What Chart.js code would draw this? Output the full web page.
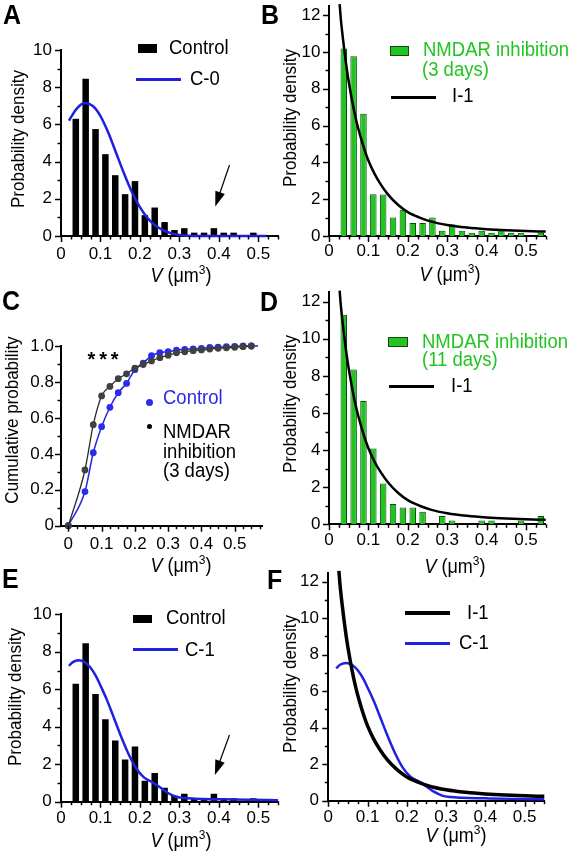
<!DOCTYPE html>
<html>
<head>
<meta charset="utf-8">
<script src="https://cdn.jsdelivr.net/npm/chart.js@4.4.0/dist/chart.umd.min.js"></script>
<style>
  body { margin: 0; background: #fff; }
  #fig { position: relative; width: 568px; height: 852px; overflow: hidden;
         font-family: 'Liberation Sans', Arial, sans-serif; color: #000; }
  #fig canvas { position: absolute; }
  .t { position: absolute; white-space: nowrap; line-height: 1; transform: translateY(-50%) scaleY(1.12); }
  .c { transform: translate(-50%, -50%) scaleY(1.12); }
  .rot { transform: translate(-50%, -50%) rotate(-90deg) scaleY(1.05); font-size: 17px; }
  .letter { font-weight: bold; font-size: 25px; }
  .leg { font-size: 18.5px; }
  .xt { font-size: 18px; }
  .xt sup { font-size: 12px; line-height: 0; }
  .green { color: #22c422; }
  .blue { color: #2a2ae8; }
  .sw { position: absolute; }
</style>
</head>
<body>
<div id="fig">
  <canvas id="cA"></canvas>
  <canvas id="cB"></canvas>
  <canvas id="cC"></canvas>
  <canvas id="cD"></canvas>
  <canvas id="cE"></canvas>
  <canvas id="cF"></canvas>

  <!-- panel letters -->
  <div class="t letter" style="left:3px;top:14px">A</div>
  <div class="t letter" style="left:261px;top:14px">B</div>
  <div class="t letter" style="left:2px;top:300px">C</div>
  <div class="t letter" style="left:260px;top:301px">D</div>
  <div class="t letter" style="left:2px;top:578px">E</div>
  <div class="t letter" style="left:267px;top:579px">F</div>

  <!-- y axis titles -->
  <div class="t rot" style="left:18px;top:139px">Probability density</div>
  <div class="t rot" style="left:290px;top:118px">Probability density</div>
  <div class="t rot" style="left:12px;top:420px">Cumulative probability</div>
  <div class="t rot" style="left:290px;top:404px">Probability density</div>
  <div class="t rot" style="left:15px;top:697px">Probability density</div>
  <div class="t rot" style="left:290px;top:684px">Probability density</div>

  <!-- x axis titles -->
  <div class="t c xt" style="left:181px;top:275px"><i>V</i> (μm<sup>3</sup>)</div>
  <div class="t c xt" style="left:450px;top:274px"><i>V</i> (μm<sup>3</sup>)</div>
  <div class="t c xt" style="left:181px;top:565px"><i>V</i> (μm<sup>3</sup>)</div>
  <div class="t c xt" style="left:455px;top:566px"><i>V</i> (μm<sup>3</sup>)</div>
  <div class="t c xt" style="left:181px;top:840px"><i>V</i> (μm<sup>3</sup>)</div>
  <div class="t c xt" style="left:456px;top:835px"><i>V</i> (μm<sup>3</sup>)</div>

  <!-- legend A -->
  <div class="sw" style="left:138px;top:44px;width:19px;height:9px;background:#000"></div>
  <div class="t leg" style="left:169px;top:47.5px">Control</div>
  <div class="sw" style="left:136px;top:78px;width:45px;height:3px;background:#2020e0"></div>
  <div class="t leg" style="left:190px;top:79px">C-0</div>

  <!-- legend B -->
  <div class="sw" style="left:390px;top:46px;width:17px;height:8px;background:#22c422;border:1px solid #0d4d0d"></div>
  <div class="t leg green" style="left:423px;top:50px">NMDAR inhibition</div>
  <div class="t leg green" style="left:422px;top:69.5px">(3 days)</div>
  <div class="sw" style="left:391px;top:95.5px;width:45px;height:3px;background:#000"></div>
  <div class="t leg" style="left:452px;top:95.5px">I-1</div>

  <!-- legend C -->
  <div class="sw" style="left:145.5px;top:398.8px;width:7px;height:7px;border-radius:50%;background:#2b2bef"></div>
  <div class="t leg blue" style="left:163px;top:398.3px">Control</div>
  <div class="sw" style="left:146.5px;top:423.5px;width:5px;height:5px;border-radius:50%;background:#000"></div>
  <div class="t leg" style="left:163px;top:431.7px">NMDAR</div>
  <div class="t leg" style="left:163px;top:451.7px">inhibition</div>
  <div class="t leg" style="left:163px;top:471px">(3 days)</div>
  <div style="position:absolute;left:87.5px;top:348.6px;font-size:20px;font-weight:bold;line-height:1;letter-spacing:3.9px">***</div>

  <!-- legend D -->
  <div class="sw" style="left:388px;top:337px;width:18px;height:8px;background:#22c422;border:1px solid #0d4d0d"></div>
  <div class="t leg green" style="left:422px;top:341.5px">NMDAR inhibition</div>
  <div class="t leg green" style="left:422px;top:359.5px">(11 days)</div>
  <div class="sw" style="left:389px;top:384.5px;width:45px;height:3px;background:#000"></div>
  <div class="t leg" style="left:451px;top:385.5px">I-1</div>

  <!-- legend E -->
  <div class="sw" style="left:133px;top:615px;width:19px;height:8px;background:#000"></div>
  <div class="t leg" style="left:166px;top:618.3px">Control</div>
  <div class="sw" style="left:133px;top:647.5px;width:45px;height:3px;background:#2020e0"></div>
  <div class="t leg" style="left:185px;top:650px">C-1</div>

  <!-- legend F -->
  <div class="sw" style="left:405px;top:610.5px;width:45px;height:4px;background:#000"></div>
  <div class="t leg" style="left:467px;top:612.5px">I-1</div>
  <div class="sw" style="left:405px;top:642px;width:45px;height:3px;background:#2020e0"></div>
  <div class="t leg" style="left:459px;top:643.3px">C-1</div>
</div>

<script>
// histogram bins (bin centres, µm³)
const binCenters = [0.0375, 0.0625, 0.0875, 0.1125, 0.1375, 0.1625, 0.1875, 0.2125, 0.2375, 0.2625,
  0.2875, 0.3125, 0.3375, 0.3625, 0.3875, 0.4125, 0.4375, 0.4625, 0.4875, 0.5125, 0.5375];
const controlHist = [6.3, 8.45, 5.75, 4.4, 3.27, 2.25, 2.95, 1.12, 1.53, 0.75,
  0.32, 0.42, 0.18, 0.18, 0.42, 0.18, 0.18, 0, 0.18, 0, 0];
const nmdar3Hist = [10.19, 9.77, 6.65, 2.27, 2.25, 1.0, 1.43, 0.71, 0.71, 1.0,
  0.29, 0.62, 0.29, 0.18, 0.29, 0.18, 0.4, 0.18, 0.18, 0, 0.18];
const nmdar11Hist = [11.3, 8.35, 6.65, 4.08, 2.2, 1.1, 0.9, 0.9, 0.68, 0,
  0.45, 0.2, 0, 0, 0.2, 0.2, 0, 0, 0.2, 0, 0.45];

// model curves
const c0X = [0.02, 0.04, 0.06, 0.08, 0.10, 0.12, 0.14, 0.16, 0.18, 0.20, 0.22, 0.24, 0.26, 0.28, 0.30, 0.32, 0.35, 0.40, 0.52];
const c0Y = [6.2, 6.85, 7.15, 7.0, 6.45, 5.55, 4.45, 3.35, 2.35, 1.55, 0.95, 0.55, 0.3, 0.14, 0.06, 0.02, 0, 0, 0];

const i1X = [0.027, 0.03, 0.035, 0.04, 0.045, 0.05, 0.06, 0.07, 0.08, 0.09, 0.1, 0.115, 0.13, 0.15, 0.175,
  0.2, 0.23, 0.26, 0.3, 0.35, 0.4, 0.45, 0.5, 0.55];
const i1Y = [12.6, 11.8, 10.8, 9.9, 9.1, 8.4, 7.2, 6.2, 5.4, 4.7, 4.1, 3.4, 2.85, 2.25, 1.7,
  1.3, 1.0, 0.78, 0.6, 0.46, 0.37, 0.31, 0.27, 0.24];

const c1X = [0.02, 0.03, 0.045, 0.06, 0.075, 0.09, 0.1, 0.115, 0.13, 0.15, 0.17, 0.19, 0.21, 0.23,
  0.25, 0.27, 0.29, 0.31, 0.34, 0.4, 0.47, 0.55];
const c1Y = [7.25, 7.45, 7.55, 7.45, 7.15, 6.65, 6.2, 5.5, 4.7, 3.6, 2.6, 1.8, 1.3, 1.06,
  0.78, 0.48, 0.28, 0.2, 0.16, 0.13, 0.1, 0.08];

// cumulative distributions (panel C)
const cumV = [0, 0.05, 0.075, 0.1, 0.125, 0.15, 0.175, 0.2, 0.225, 0.25, 0.275, 0.3, 0.325, 0.35,
  0.375, 0.4, 0.425, 0.45, 0.475, 0.5, 0.525, 0.55];
const cumControl = [0, 0.19, 0.406, 0.551, 0.659, 0.74, 0.792, 0.868, 0.905, 0.946, 0.963, 0.968, 0.977, 0.981,
  0.984, 0.987, 0.992, 0.993, 0.996, 0.998, 1.0, 1.0];
const cumNmdar = [0, 0.31, 0.562, 0.722, 0.775, 0.818, 0.845, 0.877, 0.897, 0.917, 0.935, 0.948, 0.962, 0.968,
  0.974, 0.978, 0.983, 0.987, 0.99, 0.993, 0.996, 1.0];
const cumControlEnd = 0.57; // fitted line runs a little past the last point

// tick labels
const volTicks = [0, 0.1, 0.2, 0.3, 0.4, 0.5];
const dens10Ticks = [0, 2, 4, 6, 8, 10];
const dens12Ticks = [0, 2, 4, 6, 8, 10, 12];
const cumTicks = [0, 0.2, 0.4, 0.6, 0.8, 1.0];

const BLUE = '#2020e0';
const GREEN = '#22c422';

Chart.defaults.font.family = "'Liberation Sans', Arial, sans-serif";
Chart.defaults.color = '#000';

const xy = (xs, ys) => xs.map((x, i) => ({ x: x, y: ys[i] }));
const bars = ys => binCenters.map((x, i) => ({ x: x, y: ys[i] })).filter(p => p.y > 0);

function minorSteps(from, to, step, skipEvery) {
  const out = [];
  for (let k = Math.round(from / step); k * step <= to + 1e-9; k++) {
    if (k % skipEvery !== 0) out.push(+(k * step).toFixed(4));
  }
  return out;
}

// major + minor tick marks, drawn through the scales
const tickMarks = {
  id: 'tickMarks',
  afterDraw(chart, args, opts) {
    const ctx = chart.ctx;
    ctx.save();
    ctx.strokeStyle = '#000';
    ctx.lineWidth = 1.5;
    ['x', 'y'].forEach(id => {
      const s = chart.scales[id];
      const sets = [[s.ticks.map(t => t.value), 6], [opts[id] || [], 3.5]];
      sets.forEach(([vals, len]) => {
        vals.forEach(v => {
          const p = Math.round(s.getPixelForValue(v)) + 0.5;
          ctx.beginPath();
          if (id === 'x') { ctx.moveTo(p, s.top); ctx.lineTo(p, s.top + len); }
          else { ctx.moveTo(s.right, p); ctx.lineTo(s.right - len, p); }
          ctx.stroke();
        });
      });
    });
    ctx.restore();
  }
};

const arrow = {
  id: 'arrow',
  afterDatasetsDraw(chart, args, opts) {
    if (!opts.from) return;
    const { x, y } = chart.scales;
    const x1 = x.getPixelForValue(opts.from[0]), y1 = y.getPixelForValue(opts.from[1]);
    const x2 = x.getPixelForValue(opts.to[0]), y2 = y.getPixelForValue(opts.to[1]);
    const a = Math.atan2(y2 - y1, x2 - x1);
    const ctx = chart.ctx;
    ctx.save();
    ctx.strokeStyle = '#000';
    ctx.fillStyle = '#000';
    ctx.lineWidth = 1.2;
    ctx.beginPath();
    ctx.moveTo(x1, y1);
    ctx.lineTo(x2 - 12 * Math.cos(a), y2 - 12 * Math.sin(a));
    ctx.stroke();
    ctx.beginPath();
    ctx.moveTo(x2, y2);
    ctx.lineTo(x2 - 15 * Math.cos(a) + 5 * Math.sin(a), y2 - 15 * Math.sin(a) - 5 * Math.cos(a));
    ctx.lineTo(x2 - 15 * Math.cos(a) - 5 * Math.sin(a), y2 - 15 * Math.sin(a) + 5 * Math.cos(a));
    ctx.closePath();
    ctx.fill();
    ctx.restore();
  }
};

// page boxes: canvas [left, top, width, height], plot area [left, top, right, bottom]
const PANELS = {
  A: { box: [0, 0, 284, 290], area: [61, 50, 278, 236] },
  B: { box: [280, 0, 288, 290], area: [329, 6, 545.7, 236] },
  C: { box: [0, 290, 284, 270], area: [61, 346, 262, 525.7] },
  D: { box: [280, 285, 288, 275], area: [329, 292.4, 545.7, 524.3] },
  E: { box: [0, 570, 284, 282], area: [61, 614.3, 278, 801.7] },
  F: { box: [280, 565, 288, 287], area: [328.3, 572.6, 544.3, 800.7] }
};

function fmt(v) { return v === 0 ? '0' : String(v); }
function fmt1(v) { return v === 0 ? '0' : v.toFixed(1); }

function makeChart(id, cfg) {
  const [bx, by, bw, bh] = PANELS[id].box;
  const [al, at, ar, ab] = PANELS[id].area;
  const canvas = document.getElementById('c' + id);
  canvas.width = bw;
  canvas.height = bh;
  canvas.style.left = bx + 'px';
  canvas.style.top = by + 'px';

  return new Chart(canvas, {
    type: 'bar',
    data: { datasets: cfg.datasets },
    options: {
      responsive: false,
      animation: false,
      layout: { padding: { left: 0, top: at - by, right: bx + bw - ar, bottom: 0 } },
      plugins: {
        legend: { display: false },
        tooltip: { enabled: false },
        tickMarks: { x: cfg.xMinor, y: cfg.yMinor },
        arrow: cfg.arrow || {}
      },
      scales: {
        x: {
          type: 'linear', min: cfg.xMin, max: cfg.xMax, offset: false,
          grid: { display: false, drawTicks: false, offset: false },
          border: { display: true, color: '#000', width: 2 },
          ticks: { font: { size: 17 }, padding: cfg.xPad, autoSkip: false, maxRotation: 0, callback: fmt1 },
          afterBuildTicks: s => { s.ticks = volTicks.map(v => ({ value: v })); },
          afterFit: s => { s.height = by + bh - ab; s.paddingLeft = 0; s.paddingRight = 0; }
        },
        y: {
          type: 'linear', min: 0, max: cfg.yMax,
          grid: { display: false, drawTicks: false },
          border: { display: true, color: '#000', width: 2 },
          ticks: { font: { size: 17 }, padding: cfg.yPad, autoSkip: false, callback: cfg.yFmt || fmt },
          afterBuildTicks: s => { s.ticks = cfg.yTicks.map(v => ({ value: v })); },
          afterFit: s => { s.width = al - bx; s.paddingTop = 0; s.paddingBottom = 0; }
        }
      }
    },
    plugins: [tickMarks, arrow]
  });
}

const volMinor = minorSteps(0.025, 0.55, 0.025, 4);
const dens10Minor = [1, 3, 5, 7, 9];
const dens12Minor = [1, 3, 5, 7, 9, 11];

const curve = (data, color, width) => ({
  type: 'line', data: data, borderColor: color, borderWidth: width, pointRadius: 0,
  cubicInterpolationMode: 'monotone', clip: false
});
const histBars = (data, fill, border) => ({
  type: 'bar', data: data, backgroundColor: fill, borderColor: border, borderWidth: border ? 1 : 0,
  barPercentage: 0.66, categoryPercentage: 1
});

// A
makeChart('A', {
  datasets: [curve(xy(c0X, c0Y), BLUE, 2.5), histBars(bars(controlHist), '#000', null)],
  xMin: 0, xMax: 0.55, yMax: 10, yTicks: dens10Ticks, xMinor: volMinor, yMinor: dens10Minor,
  xPad: 8.5, yPad: 9, arrow: { from: [0.427, 3.82], to: [0.391, 1.58] }
});

// B
makeChart('B', {
  datasets: [curve(xy(i1X, i1Y), '#000', 2.5), histBars(bars(nmdar3Hist), GREEN, '#0d4d0d')],
  xMin: 0, xMax: 0.55, yMax: 12.5, yTicks: dens12Ticks, xMinor: volMinor, yMinor: dens12Minor,
  xPad: 5, yPad: 8.5
});

// C
const ctrlLine = xy(cumV, cumControl).concat([{ x: cumControlEnd, y: 1.0 }]);
makeChart('C', {
  datasets: [
    { type: 'line', data: xy(cumV, cumNmdar), borderColor: '#2a2a2a', borderWidth: 1.3,
      pointRadius: 3.4, pointBackgroundColor: '#404040', pointBorderWidth: 0,
      cubicInterpolationMode: 'monotone', clip: false },
    { type: 'line', data: ctrlLine, borderColor: '#2525e0', borderWidth: 1.5,
      pointRadius: c => (c.dataIndex === ctrlLine.length - 1 ? 0 : 3.4),
      pointBackgroundColor: '#2b2bef', pointBorderWidth: 0,
      cubicInterpolationMode: 'monotone', clip: false }
  ],
  xMin: -0.022, xMax: 0.582, yMax: 1.0, yTicks: cumTicks, yFmt: fmt1,
  xMinor: minorSteps(0.025, 0.575, 0.025, 4), yMinor: [0.1, 0.3, 0.5, 0.7, 0.9],
  xPad: 8.7, yPad: 7
});

// D
makeChart('D', {
  datasets: [curve(xy(i1X, i1Y), '#000', 2.5), histBars(bars(nmdar11Hist), GREEN, '#0d4d0d')],
  xMin: 0, xMax: 0.55, yMax: 12.5, yTicks: dens12Ticks, xMinor: volMinor, yMinor: dens12Minor,
  xPad: 6, yPad: 8.5
});

// E
makeChart('E', {
  datasets: [curve(xy(c1X, c1Y), BLUE, 2.5), histBars(bars(controlHist), '#000', null)],
  xMin: 0, xMax: 0.55, yMax: 10, yTicks: dens10Ticks, xMinor: volMinor, yMinor: dens10Minor,
  xPad: 6, yPad: 9.3, arrow: { from: [0.427, 3.56], to: [0.39, 1.42] }
});

// F
makeChart('F', {
  datasets: [curve(xy(i1X, i1Y), '#000', 3.5), curve(xy(c1X, c1Y), BLUE, 2.5)],
  xMin: 0, xMax: 0.55, yMax: 12.5, yTicks: dens12Ticks, xMinor: volMinor, yMinor: dens12Minor,
  xPad: 6.3, yPad: 9.3
});
</script>
</body>
</html>
